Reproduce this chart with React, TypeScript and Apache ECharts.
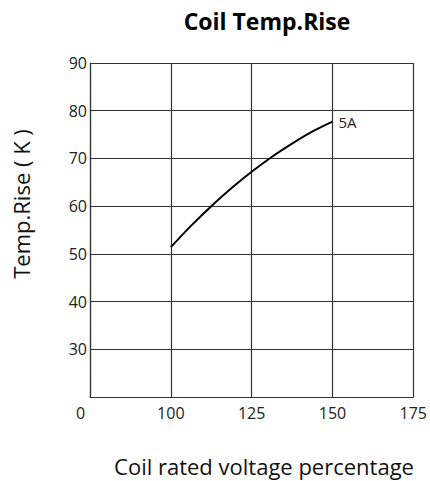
import React, { useEffect, useRef } from "react";
import * as echarts from "echarts";

const xTicks = [75, 100, 125, 150, 175];
const xTickLabels = ["0", "100", "125", "150", "175"];
const voltagePct = [100, 106, 113, 119, 125, 131, 138, 144, 150];
const tempRise5A = [51.4, 55.7, 60.3, 63.9, 67.2, 70.2, 73.3, 75.7, 77.7];
const seriesName = "5A";
const titleText = "Coil Temp.Rise";
const xName = "Coil rated voltage percentage";
const yName = "Temp.Rise ( K )";

export default function App() {
  const ref = useRef<HTMLDivElement>(null);
  useEffect(() => {
    if (!ref.current) return;
    const chart = echarts.init(ref.current, null, { renderer: "svg" });
    const font = "'Open Sans', sans-serif";
    chart.setOption({
      animation: false,
      backgroundColor: "#ffffff",
      title: {
        text: titleText,
        left: 262,
        textAlign: "center",
        top: 4,
        textStyle: { fontFamily: font, fontWeight: "bold", fontSize: 23, color: "#000" },
      },
      graphic: [
        {
          type: "text",
          x: 264,
          y: 466,
          style: {
            text: xName,
            fontFamily: font,
            fontSize: 22,
            fill: "#111",
            textAlign: "center",
            textVerticalAlign: "middle",
          },
        },
        {
          type: "text",
          x: 21,
          y: 204,
          rotation: Math.PI / 2,
          style: {
            text: yName,
            fontFamily: font,
            fontSize: 22,
            fill: "#111",
            textAlign: "center",
            textVerticalAlign: "middle",
          },
        },
      ],
      grid: { left: 90, top: 63, right: 15, bottom: 84 },
      xAxis: {
        type: "value",
        min: 75,
        max: 175,
        interval: 25,
        axisLine: { show: true, lineStyle: { color: "#333", width: 1.2 } },
        axisTick: { show: false },
        axisLabel: {
          fontFamily: font,
          fontSize: 16,
          color: "#222",
          margin: 8,
          showMaxLabel: true,
          showMinLabel: true,
          formatter: (v: number) => {
            const i = xTicks.indexOf(v);
            if (i < 0) return "";
            return i === 0 ? "{z|" + xTickLabels[i] + "}" : xTickLabels[i];
          },
          rich: {
            z: { fontFamily: font, fontSize: 16, color: "#222", padding: [0, 19, 0, 0] },
          },
        },
        splitLine: { show: true, lineStyle: { color: "#333", width: 1.2 } },
      },
      yAxis: {
        type: "value",
        min: 20,
        max: 90,
        interval: 10,
        axisLine: { show: true, lineStyle: { color: "#333", width: 1.2 } },
        axisTick: { show: false },
        axisLabel: {
          fontFamily: font,
          fontSize: 16,
          color: "#222",
          margin: 3,
          showMaxLabel: true,
          formatter: (v: number) => (v === 20 ? "" : String(v)),
        },
        splitLine: { show: true, lineStyle: { color: "#333", width: 1.2 } },
      },
      series: [
        {
          name: seriesName,
          type: "line",
          smooth: 0.3,
          showSymbol: false,
          symbol: "none",
          data: voltagePct.map((x, i) => [x, tempRise5A[i]]),
          lineStyle: { color: "#000", width: 2 },
          endLabel: {
            show: true,
            formatter: seriesName,
            fontFamily: font,
            fontSize: 15,
            color: "#222",
            distance: 6,
          },
        },
      ],
    });
    return () => chart.dispose();
  }, []);
  return (
    <div
      ref={ref}
      style={{ position: "fixed", left: 0, top: 0, width: 430, height: 481 }}
    />
  );
}
